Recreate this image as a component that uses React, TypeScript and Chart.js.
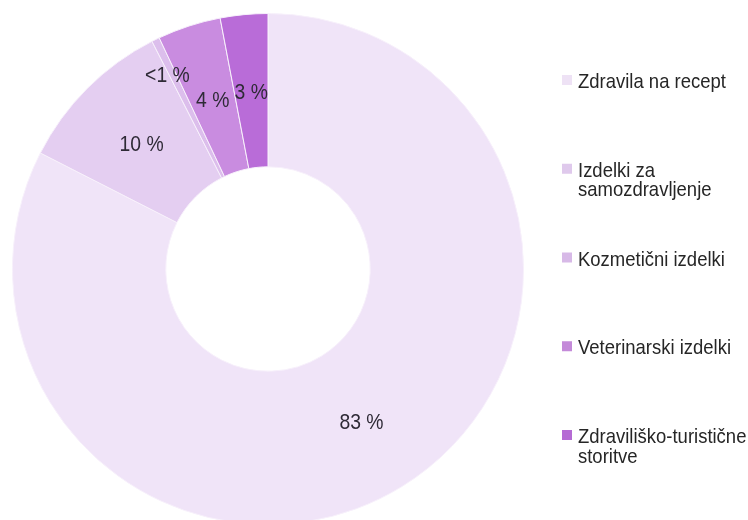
import React, { useEffect, useRef } from "react";
import { Chart, registerables } from "chart.js";

Chart.register(...registerables);

const categories = [
  "Zdravila na recept",
  "Izdelki za samozdravljenje",
  "Kozmetični izdelki",
  "Veterinarski izdelki",
  "Zdraviliško-turistične storitve",
];
const legendLines = [
  ["Zdravila na recept"],
  ["Izdelki za", "samozdravljenje"],
  ["Kozmetični izdelki"],
  ["Veterinarski izdelki"],
  ["Zdraviliško-turistične", "storitve"],
];
const shares = [82.5, 10, 0.5, 4, 3];
const sliceColors = ["#F0E4F8", "#E4CEF1", "#DCBEEC", "#C98CE0", "#B96CD8"];
const legendColors = ["#EEE2F5", "#DFC9EC", "#D7B9E7", "#C48AD9", "#B56BD4"];

const FONT = '"Liberation Sans", Arial, sans-serif';
const XSCALE = 0.88;

function fmt(v: number) {
  return v < 1 ? "<1 %" : Math.round(v) + " %";
}

const labelPlugin = {
  id: "sliceLabels",
  afterDatasetsDraw(chart: any) {
    const ctx = chart.ctx;
    const meta = chart.getDatasetMeta(0);
    const data = chart.data.datasets[0].data as number[];
    ctx.save();
    ctx.fillStyle = "#2e2a36";
    ctx.font = `22px ${FONT}`;
    ctx.textAlign = "center";
    ctx.textBaseline = "alphabetic";
    meta.data.forEach((arc: any, i: number) => {
      const p = arc.getProps(["x", "y", "startAngle", "endAngle", "innerRadius", "outerRadius"], true);
      const mid = (p.startAngle + p.endAngle) / 2;
      const v = data[i];
      const r = v < 1 ? p.outerRadius * 0.86 : (p.innerRadius + p.outerRadius) / 2;
      const ang = v < 1 ? mid - 0.02 : mid;
      const px = p.x + Math.cos(ang) * r;
      const py = p.y + Math.sin(ang) * r;
      ctx.save();
      ctx.translate(px, py + 8);
      ctx.scale(XSCALE, 1);
      ctx.fillText(fmt(v), 0, 0);
      ctx.restore();
    });
    ctx.restore();
  },
};

const legendPlugin = {
  id: "sideLegend",
  afterDraw(chart: any) {
    const ctx = chart.ctx;
    const area = chart.chartArea;
    const boxX = area.right + 38;
    const textX = boxX + 16;
    const firstBaseline = area.top + 75;
    const step = 88.75;
    const lineH = 19.5;
    ctx.save();
    ctx.font = `21px ${FONT}`;
    ctx.textBaseline = "alphabetic";
    ctx.textAlign = "left";
    legendLines.forEach((lines, i) => {
      const base = firstBaseline + i * step;
      ctx.fillStyle = legendColors[i];
      ctx.fillRect(boxX, base - 13, 10, 10);
      ctx.fillStyle = "#262626";
      lines.forEach((t, j) => {
        ctx.save();
        ctx.translate(textX, base + j * lineH);
        ctx.scale(XSCALE, 1);
        ctx.fillText(t, 0, 0);
        ctx.restore();
      });
    });
    ctx.restore();
  },
};

export default function App() {
  const ref = useRef<HTMLCanvasElement | null>(null);
  useEffect(() => {
    if (!ref.current) return;
    const chart = new Chart(ref.current, {
      type: "doughnut",
      data: {
        labels: categories,
        datasets: [
          {
            data: shares,
            backgroundColor: sliceColors,
            borderColor: "#F7F0FB",
            borderWidth: 1,
          },
        ],
      },
      options: {
        animation: false,
        responsive: false,
        cutout: "40%",
        layout: { padding: { left: 12, top: 13, right: 224, bottom: 15 } },
        plugins: {
          legend: { display: false },
          tooltip: { enabled: false },
        },
      },
      plugins: [labelPlugin, legendPlugin],
    });
    return () => chart.destroy();
  }, []);
  return (
    <div style={{ position: "fixed", left: 0, top: 0, width: 748, height: 540, background: "#fff" }}>
      <canvas ref={ref} width={748} height={540} style={{ width: 748, height: 540, display: "block" }} />
    </div>
  );
}
